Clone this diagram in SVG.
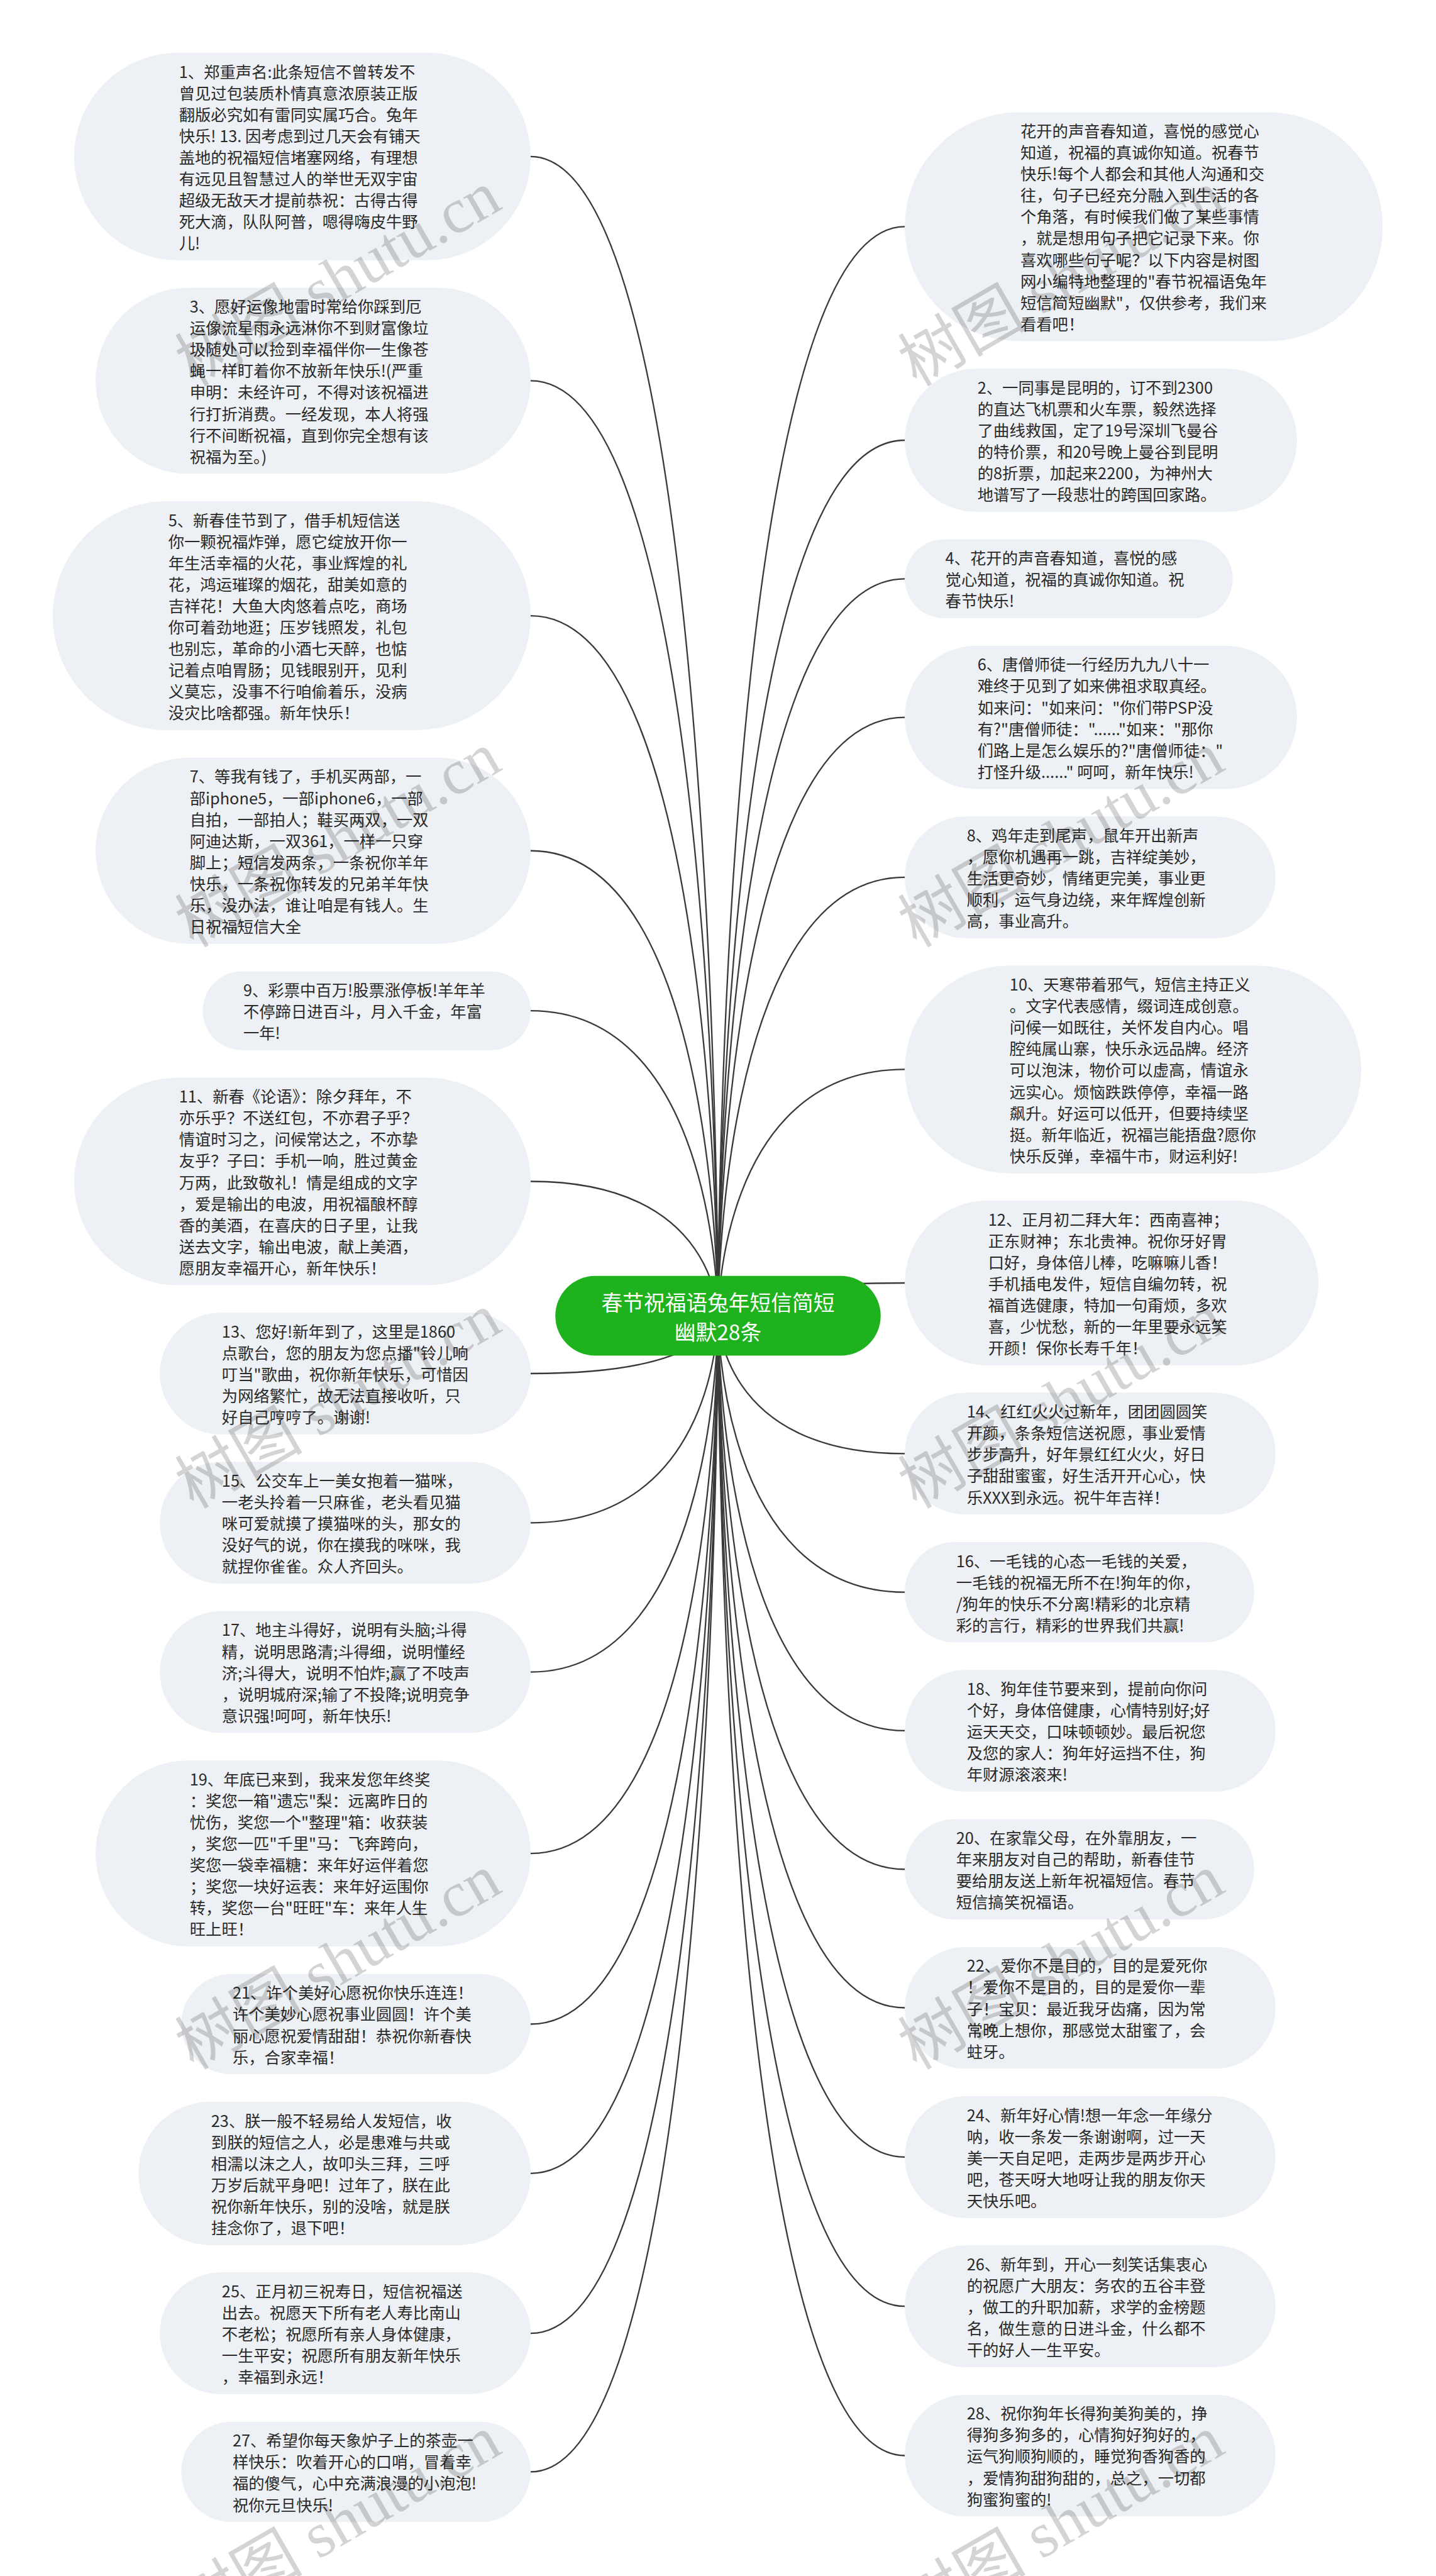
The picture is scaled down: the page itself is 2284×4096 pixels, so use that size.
<svg xmlns="http://www.w3.org/2000/svg" width="2284" height="4096" viewBox="0 0 2284 4096">
<style>
.b{fill:#edf0f4}
.t{font-family:"Noto Sans CJK SC","Liberation Sans",sans-serif;font-size:28.4px;fill:#2a2a2a;dominant-baseline:central}
.c{fill:none;stroke:#3a3a3a;stroke-width:2.6}
.g{fill:#1eb31e}
.gt{font-family:"Noto Sans CJK SC","Liberation Sans",sans-serif;font-size:37.8px;fill:#ffffff;text-anchor:middle;dominant-baseline:central}
.w{font-family:"Liberation Serif","Noto Sans CJK SC",serif;font-size:114px;fill:#000000;fill-opacity:0.17}
</style>
<rect width="2284" height="4096" fill="#ffffff"/>
<g transform="scale(0.89219)">
<g id="connectors">
<path class="c" d="M946,278.9 C1280,278.9 1280,2345 1280,2345"/>
<path class="c" d="M946,678.6 C1280,678.6 1280,2345 1280,2345"/>
<path class="c" d="M946,1097.4 C1280,1097.4 1280,2345 1280,2345"/>
<path class="c" d="M946,1516.2 C1280,1516.2 1280,2345 1280,2345"/>
<path class="c" d="M946,1801.3 C1280,1801.3 1280,2345 1280,2345"/>
<path class="c" d="M946,2105.5 C1280,2105.5 1280,2345 1280,2345"/>
<path class="c" d="M946,2447.9 C1280,2447.9 1280,2345 1280,2345"/>
<path class="c" d="M946,2713.9 C1280,2713.9 1280,2345 1280,2345"/>
<path class="c" d="M946,2979.9 C1280,2979.9 1280,2345 1280,2345"/>
<path class="c" d="M946,3303.2 C1280,3303.2 1280,2345 1280,2345"/>
<path class="c" d="M946,3607.4 C1280,3607.4 1280,2345 1280,2345"/>
<path class="c" d="M946,3873.4 C1280,3873.4 1280,2345 1280,2345"/>
<path class="c" d="M946,4158.5 C1280,4158.5 1280,2345 1280,2345"/>
<path class="c" d="M946,4405.4 C1280,4405.4 1280,2345 1280,2345"/>
<path class="c" d="M1613,404 C1280,404 1280,2345 1280,2345"/>
<path class="c" d="M1613,784.6 C1280,784.6 1280,2345 1280,2345"/>
<path class="c" d="M1613,1031.5 C1280,1031.5 1280,2345 1280,2345"/>
<path class="c" d="M1613,1278.4 C1280,1278.4 1280,2345 1280,2345"/>
<path class="c" d="M1613,1563.5 C1280,1563.5 1280,2345 1280,2345"/>
<path class="c" d="M1613,1905.9 C1280,1905.9 1280,2345 1280,2345"/>
<path class="c" d="M1613,2286.5 C1280,2286.5 1280,2345 1280,2345"/>
<path class="c" d="M1613,2590.7 C1280,2590.7 1280,2345 1280,2345"/>
<path class="c" d="M1613,2837.6 C1280,2837.6 1280,2345 1280,2345"/>
<path class="c" d="M1613,3084.5 C1280,3084.5 1280,2345 1280,2345"/>
<path class="c" d="M1613,3331.4 C1280,3331.4 1280,2345 1280,2345"/>
<path class="c" d="M1613,3578.3 C1280,3578.3 1280,2345 1280,2345"/>
<path class="c" d="M1613,3844.3 C1280,3844.3 1280,2345 1280,2345"/>
<path class="c" d="M1613,4110.3 C1280,4110.3 1280,2345 1280,2345"/>
<path class="c" d="M1613,4376.3 C1280,4376.3 1280,2345 1280,2345"/>
</g>

<g id="center">
<rect class="g" x="990" y="2274" width="580" height="142" rx="71"/>
<text class="gt"><tspan x="1280" y="2318.5">春节祝福语兔年短信简短</tspan><tspan x="1280" y="2371.5">幽默28条</tspan></text>
</g>

<g id="n1">
<rect class="b" x="132.2" y="94" width="813.8" height="369.8" rx="184.9"/>
<text class="t"><tspan x="319.1" y="126.1">1、郑重声名:此条短信不曾转发不</tspan><tspan x="319.1" y="164.3">曾见过包装质朴情真意浓原装正版</tspan><tspan x="319.1" y="202.5">翻版必究如有雷同实属巧合。兔年</tspan><tspan x="319.1" y="240.7">快乐! 13. 因考虑到过几天会有铺天</tspan><tspan x="319.1" y="278.9">盖地的祝福短信堵塞网络，有理想</tspan><tspan x="319.1" y="317.1">有远见且智慧过人的举世无双宇宙</tspan><tspan x="319.1" y="355.3">超级无敌天才提前恭祝：古得古得</tspan><tspan x="319.1" y="393.5">死大滴，队队阿普，嗯得嗨皮牛野</tspan><tspan x="319.1" y="431.7">儿!</tspan></text>
</g>
<g id="n3">
<rect class="b" x="170.4" y="512.8" width="775.6" height="331.6" rx="165.8"/>
<text class="t"><tspan x="338.2" y="544.9">3、愿好运像地雷时常给你踩到厄</tspan><tspan x="338.2" y="583.1">运像流星雨永远淋你不到财富像垃</tspan><tspan x="338.2" y="621.3">圾随处可以捡到幸福伴你一生像苍</tspan><tspan x="338.2" y="659.5">蝇一样盯着你不放新年快乐!(严重</tspan><tspan x="338.2" y="697.7">申明：未经许可，不得对该祝福进</tspan><tspan x="338.2" y="735.9">行打折消费。一经发现，本人将强</tspan><tspan x="338.2" y="774.1">行不间断祝福，直到你完全想有该</tspan><tspan x="338.2" y="812.3">祝福为至。)</tspan></text>
</g>
<g id="n5">
<rect class="b" x="94" y="893.4" width="852" height="408" rx="204"/>
<text class="t"><tspan x="300" y="925.5">5、新春佳节到了，借手机短信送</tspan><tspan x="300" y="963.7">你一颗祝福炸弹，愿它绽放开你一</tspan><tspan x="300" y="1001.9">年生活幸福的火花，事业辉煌的礼</tspan><tspan x="300" y="1040.1">花，鸿运璀璨的烟花，甜美如意的</tspan><tspan x="300" y="1078.3">吉祥花！大鱼大肉悠着点吃，商场</tspan><tspan x="300" y="1116.5">你可着劲地逛；压岁钱照发，礼包</tspan><tspan x="300" y="1154.7">也别忘，革命的小酒七天醉，也惦</tspan><tspan x="300" y="1192.9">记着点咱胃肠；见钱眼别开，见利</tspan><tspan x="300" y="1231.1">义莫忘，没事不行咱偷着乐，没病</tspan><tspan x="300" y="1269.3">没灾比啥都强。新年快乐！</tspan></text>
</g>
<g id="n7">
<rect class="b" x="170.4" y="1350.4" width="775.6" height="331.6" rx="165.8"/>
<text class="t"><tspan x="338.2" y="1382.5">7、等我有钱了，手机买两部，一</tspan><tspan x="338.2" y="1420.7">部iphone5，一部iphone6，一部</tspan><tspan x="338.2" y="1458.9">自拍，一部拍人；鞋买两双，一双</tspan><tspan x="338.2" y="1497.1">阿迪达斯，一双361，一样一只穿</tspan><tspan x="338.2" y="1535.3">脚上；短信发两条，一条祝你羊年</tspan><tspan x="338.2" y="1573.5">快乐，一条祝你转发的兄弟羊年快</tspan><tspan x="338.2" y="1611.7">乐，没办法，谁让咱是有钱人。生</tspan><tspan x="338.2" y="1649.9">日祝福短信大全</tspan></text>
</g>
<g id="n9">
<rect class="b" x="361.4" y="1731" width="584.6" height="140.6" rx="70.3"/>
<text class="t"><tspan x="433.7" y="1763.1">9、彩票中百万!股票涨停板!羊年羊</tspan><tspan x="433.7" y="1801.3">不停蹄日进百斗，月入千金，年富</tspan><tspan x="433.7" y="1839.5">一年!</tspan></text>
</g>
<g id="n11">
<rect class="b" x="132.2" y="1920.6" width="813.8" height="369.8" rx="184.9"/>
<text class="t"><tspan x="319.1" y="1952.7">11、新春《论语》：除夕拜年，不</tspan><tspan x="319.1" y="1990.9">亦乐乎？不送红包，不亦君子乎？</tspan><tspan x="319.1" y="2029.1">情谊时习之，问候常达之，不亦挚</tspan><tspan x="319.1" y="2067.3">友乎？子曰：手机一响，胜过黄金</tspan><tspan x="319.1" y="2105.5">万两，此致敬礼！情是组成的文字</tspan><tspan x="319.1" y="2143.7">，爱是输出的电波，用祝福酿杯醇</tspan><tspan x="319.1" y="2181.9">香的美酒，在喜庆的日子里，让我</tspan><tspan x="319.1" y="2220.1">送去文字，输出电波，献上美酒，</tspan><tspan x="319.1" y="2258.3">愿朋友幸福开心，新年快乐！</tspan></text>
</g>
<g id="n13">
<rect class="b" x="285" y="2339.4" width="661" height="217" rx="108.5"/>
<text class="t"><tspan x="395.5" y="2371.5">13、您好!新年到了，这里是1860</tspan><tspan x="395.5" y="2409.7">点歌台，您的朋友为您点播"铃儿响</tspan><tspan x="395.5" y="2447.9">叮当"歌曲，祝你新年快乐，可惜因</tspan><tspan x="395.5" y="2486.1">为网络繁忙，故无法直接收听，只</tspan><tspan x="395.5" y="2524.3">好自己哼哼了。谢谢!</tspan></text>
</g>
<g id="n15">
<rect class="b" x="285" y="2605.4" width="661" height="217" rx="108.5"/>
<text class="t"><tspan x="395.5" y="2637.5">15、公交车上一美女抱着一猫咪，</tspan><tspan x="395.5" y="2675.7">一老头拎着一只麻雀，老头看见猫</tspan><tspan x="395.5" y="2713.9">咪可爱就摸了摸猫咪的头，那女的</tspan><tspan x="395.5" y="2752.1">没好气的说，你在摸我的咪咪，我</tspan><tspan x="395.5" y="2790.3">就捏你雀雀。众人齐回头。</tspan></text>
</g>
<g id="n17">
<rect class="b" x="285" y="2871.4" width="661" height="217" rx="108.5"/>
<text class="t"><tspan x="395.5" y="2903.5">17、地主斗得好，说明有头脑;斗得</tspan><tspan x="395.5" y="2941.7">精，说明思路清;斗得细，说明懂经</tspan><tspan x="395.5" y="2979.9">济;斗得大，说明不怕炸;赢了不吱声</tspan><tspan x="395.5" y="3018.1">，说明城府深;输了不投降;说明竞争</tspan><tspan x="395.5" y="3056.3">意识强!呵呵，新年快乐!</tspan></text>
</g>
<g id="n19">
<rect class="b" x="170.4" y="3137.4" width="775.6" height="331.6" rx="165.8"/>
<text class="t"><tspan x="338.2" y="3169.5">19、年底已来到，我来发您年终奖</tspan><tspan x="338.2" y="3207.7">：奖您一箱"遗忘"梨：远离昨日的</tspan><tspan x="338.2" y="3245.9">忧伤，奖您一个"整理"箱：收获装</tspan><tspan x="338.2" y="3284.1">，奖您一匹"千里"马：飞奔跨向，</tspan><tspan x="338.2" y="3322.3">奖您一袋幸福糖：来年好运伴着您</tspan><tspan x="338.2" y="3360.5">；奖您一块好运表：来年好运围你</tspan><tspan x="338.2" y="3398.7">转，奖您一台"旺旺"车：来年人生</tspan><tspan x="338.2" y="3436.9">旺上旺！</tspan></text>
</g>
<g id="n21">
<rect class="b" x="323.2" y="3518" width="622.8" height="178.8" rx="89.4"/>
<text class="t"><tspan x="414.6" y="3550.1">21、许个美好心愿祝你快乐连连！</tspan><tspan x="414.6" y="3588.3">许个美妙心愿祝事业圆圆！许个美</tspan><tspan x="414.6" y="3626.5">丽心愿祝爱情甜甜！恭祝你新春快</tspan><tspan x="414.6" y="3664.7">乐，合家幸福！</tspan></text>
</g>
<g id="n23">
<rect class="b" x="246.8" y="3745.8" width="699.2" height="255.2" rx="127.6"/>
<text class="t"><tspan x="376.4" y="3777.9">23、朕一般不轻易给人发短信，收</tspan><tspan x="376.4" y="3816.1">到朕的短信之人，必是患难与共或</tspan><tspan x="376.4" y="3854.3">相濡以沫之人，故叩头三拜，三呼</tspan><tspan x="376.4" y="3892.5">万岁后就平身吧！过年了，朕在此</tspan><tspan x="376.4" y="3930.7">祝你新年快乐，别的没啥，就是朕</tspan><tspan x="376.4" y="3968.9">挂念你了，退下吧！</tspan></text>
</g>
<g id="n25">
<rect class="b" x="285" y="4050" width="661" height="217" rx="108.5"/>
<text class="t"><tspan x="395.5" y="4082.1">25、正月初三祝寿日，短信祝福送</tspan><tspan x="395.5" y="4120.3">出去。祝愿天下所有老人寿比南山</tspan><tspan x="395.5" y="4158.5">不老松；祝愿所有亲人身体健康，</tspan><tspan x="395.5" y="4196.7">一生平安；祝愿所有朋友新年快乐</tspan><tspan x="395.5" y="4234.9">，幸福到永远！</tspan></text>
</g>
<g id="n27">
<rect class="b" x="323.2" y="4316" width="622.8" height="178.8" rx="89.4"/>
<text class="t"><tspan x="414.6" y="4348.1">27、希望你每天象炉子上的茶壶一</tspan><tspan x="414.6" y="4386.3">样快乐：吹着开心的口哨，冒着幸</tspan><tspan x="414.6" y="4424.5">福的傻气，心中充满浪漫的小泡泡!</tspan><tspan x="414.6" y="4462.7">祝你元旦快乐!</tspan></text>
</g>

<g id="intro">
<rect class="b" x="1613" y="200" width="852" height="408" rx="204"/>
<text class="t"><tspan x="1819" y="232.1">花开的声音春知道，喜悦的感觉心</tspan><tspan x="1819" y="270.3">知道，祝福的真诚你知道。祝春节</tspan><tspan x="1819" y="308.5">快乐!每个人都会和其他人沟通和交</tspan><tspan x="1819" y="346.7">往，句子已经充分融入到生活的各</tspan><tspan x="1819" y="384.9">个角落，有时候我们做了某些事情</tspan><tspan x="1819" y="423.1">，就是想用句子把它记录下来。你</tspan><tspan x="1819" y="461.3">喜欢哪些句子呢？以下内容是树图</tspan><tspan x="1819" y="499.5">网小编特地整理的"春节祝福语兔年</tspan><tspan x="1819" y="537.7">短信简短幽默"，仅供参考，我们来</tspan><tspan x="1819" y="575.9">看看吧！</tspan></text>
</g>
<g id="n2">
<rect class="b" x="1613" y="657" width="699.2" height="255.2" rx="127.6"/>
<text class="t"><tspan x="1742.6" y="689.1">2、一同事是昆明的，订不到2300</tspan><tspan x="1742.6" y="727.3">的直达飞机票和火车票，毅然选择</tspan><tspan x="1742.6" y="765.5">了曲线救国，定了19号深圳飞曼谷</tspan><tspan x="1742.6" y="803.7">的特价票，和20号晚上曼谷到昆明</tspan><tspan x="1742.6" y="841.9">的8折票，加起来2200，为神州大</tspan><tspan x="1742.6" y="880.1">地谱写了一段悲壮的跨国回家路。</tspan></text>
</g>
<g id="n4">
<rect class="b" x="1613" y="961.2" width="584.6" height="140.6" rx="70.3"/>
<text class="t"><tspan x="1685.3" y="993.3">4、花开的声音春知道，喜悦的感</tspan><tspan x="1685.3" y="1031.5">觉心知道，祝福的真诚你知道。祝</tspan><tspan x="1685.3" y="1069.7">春节快乐!</tspan></text>
</g>
<g id="n6">
<rect class="b" x="1613" y="1150.8" width="699.2" height="255.2" rx="127.6"/>
<text class="t"><tspan x="1742.6" y="1182.9">6、唐僧师徒一行经历九九八十一</tspan><tspan x="1742.6" y="1221.1">难终于见到了如来佛祖求取真经。</tspan><tspan x="1742.6" y="1259.3">如来问："如来问："你们带PSP没</tspan><tspan x="1742.6" y="1297.5">有?"唐僧师徒："......"如来："那你</tspan><tspan x="1742.6" y="1335.7">们路上是怎么娱乐的?"唐僧师徒："</tspan><tspan x="1742.6" y="1373.9">打怪升级......" 呵呵，新年快乐!</tspan></text>
</g>
<g id="n8">
<rect class="b" x="1613" y="1455" width="661" height="217" rx="108.5"/>
<text class="t"><tspan x="1723.5" y="1487.1">8、鸡年走到尾声，鼠年开出新声</tspan><tspan x="1723.5" y="1525.3">，愿你机遇再一跳，吉祥绽美妙，</tspan><tspan x="1723.5" y="1563.5">生活更奇妙，情绪更完美，事业更</tspan><tspan x="1723.5" y="1601.7">顺利，运气身边绕，来年辉煌创新</tspan><tspan x="1723.5" y="1639.9">高，事业高升。</tspan></text>
</g>
<g id="n10">
<rect class="b" x="1613" y="1721" width="813.8" height="369.8" rx="184.9"/>
<text class="t"><tspan x="1799.9" y="1753.1">10、天寒带着邪气，短信主持正义</tspan><tspan x="1799.9" y="1791.3">。文字代表感情，缀词连成创意。</tspan><tspan x="1799.9" y="1829.5">问候一如既往，关怀发自内心。唱</tspan><tspan x="1799.9" y="1867.7">腔纯属山寨，快乐永远品牌。经济</tspan><tspan x="1799.9" y="1905.9">可以泡沫，物价可以虚高，情谊永</tspan><tspan x="1799.9" y="1944.1">远实心。烦恼跌跌停停，幸福一路</tspan><tspan x="1799.9" y="1982.3">飙升。好运可以低开，但要持续坚</tspan><tspan x="1799.9" y="2020.5">挺。新年临近，祝福岂能捂盘?愿你</tspan><tspan x="1799.9" y="2058.7">快乐反弹，幸福牛市，财运利好!</tspan></text>
</g>
<g id="n12">
<rect class="b" x="1613" y="2139.8" width="737.4" height="293.4" rx="146.7"/>
<text class="t"><tspan x="1761.7" y="2171.9">12、正月初二拜大年：西南喜神；</tspan><tspan x="1761.7" y="2210.1">正东财神；东北贵神。祝你牙好胃</tspan><tspan x="1761.7" y="2248.3">口好，身体倍儿棒，吃嘛嘛儿香！</tspan><tspan x="1761.7" y="2286.5">手机插电发件，短信自编勿转，祝</tspan><tspan x="1761.7" y="2324.7">福首选健康，特加一句甭烦，多欢</tspan><tspan x="1761.7" y="2362.9">喜，少忧愁，新的一年里要永远笑</tspan><tspan x="1761.7" y="2401.1">开颜！保你长寿千年！</tspan></text>
</g>
<g id="n14">
<rect class="b" x="1613" y="2482.2" width="661" height="217" rx="108.5"/>
<text class="t"><tspan x="1723.5" y="2514.3">14、红红火火过新年，团团圆圆笑</tspan><tspan x="1723.5" y="2552.5">开颜，条条短信送祝愿，事业爱情</tspan><tspan x="1723.5" y="2590.7">步步高升，好年景红红火火，好日</tspan><tspan x="1723.5" y="2628.9">子甜甜蜜蜜，好生活开开心心，快</tspan><tspan x="1723.5" y="2667.1">乐XXX到永远。祝牛年吉祥！</tspan></text>
</g>
<g id="n16">
<rect class="b" x="1613" y="2748.2" width="622.8" height="178.8" rx="89.4"/>
<text class="t"><tspan x="1704.4" y="2780.3">16、一毛钱的心态一毛钱的关爱，</tspan><tspan x="1704.4" y="2818.5">一毛钱的祝福无所不在!狗年的你，</tspan><tspan x="1704.4" y="2856.7">/狗年的快乐不分离!精彩的北京精</tspan><tspan x="1704.4" y="2894.9">彩的言行，精彩的世界我们共赢!</tspan></text>
</g>
<g id="n18">
<rect class="b" x="1613" y="2976" width="661" height="217" rx="108.5"/>
<text class="t"><tspan x="1723.5" y="3008.1">18、狗年佳节要来到，提前向你问</tspan><tspan x="1723.5" y="3046.3">个好，身体倍健康，心情特别好;好</tspan><tspan x="1723.5" y="3084.5">运天天交，口味顿顿妙。最后祝您</tspan><tspan x="1723.5" y="3122.7">及您的家人：狗年好运挡不住，狗</tspan><tspan x="1723.5" y="3160.9">年财源滚滚来!</tspan></text>
</g>
<g id="n20">
<rect class="b" x="1613" y="3242" width="622.8" height="178.8" rx="89.4"/>
<text class="t"><tspan x="1704.4" y="3274.1">20、在家靠父母，在外靠朋友，一</tspan><tspan x="1704.4" y="3312.3">年来朋友对自己的帮助，新春佳节</tspan><tspan x="1704.4" y="3350.5">要给朋友送上新年祝福短信。春节</tspan><tspan x="1704.4" y="3388.7">短信搞笑祝福语。</tspan></text>
</g>
<g id="n22">
<rect class="b" x="1613" y="3469.8" width="661" height="217" rx="108.5"/>
<text class="t"><tspan x="1723.5" y="3501.9">22、爱你不是目的，目的是爱死你</tspan><tspan x="1723.5" y="3540.1">！爱你不是目的，目的是爱你一辈</tspan><tspan x="1723.5" y="3578.3">子！宝贝：最近我牙齿痛，因为常</tspan><tspan x="1723.5" y="3616.5">常晚上想你，那感觉太甜蜜了，会</tspan><tspan x="1723.5" y="3654.7">蛀牙。</tspan></text>
</g>
<g id="n24">
<rect class="b" x="1613" y="3735.8" width="661" height="217" rx="108.5"/>
<text class="t"><tspan x="1723.5" y="3767.9">24、新年好心情!想一年念一年缘分</tspan><tspan x="1723.5" y="3806.1">呐，收一条发一条谢谢啊，过一天</tspan><tspan x="1723.5" y="3844.3">美一天自足吧，走两步是两步开心</tspan><tspan x="1723.5" y="3882.5">吧，苍天呀大地呀让我的朋友你天</tspan><tspan x="1723.5" y="3920.7">天快乐吧。</tspan></text>
</g>
<g id="n26">
<rect class="b" x="1613" y="4001.8" width="661" height="217" rx="108.5"/>
<text class="t"><tspan x="1723.5" y="4033.9">26、新年到，开心一刻笑话集衷心</tspan><tspan x="1723.5" y="4072.1">的祝愿广大朋友：务农的五谷丰登</tspan><tspan x="1723.5" y="4110.3">，做工的升职加薪，求学的金榜题</tspan><tspan x="1723.5" y="4148.5">名，做生意的日进斗金，什么都不</tspan><tspan x="1723.5" y="4186.7">干的好人一生平安。</tspan></text>
</g>
<g id="n28">
<rect class="b" x="1613" y="4267.8" width="661" height="217" rx="108.5"/>
<text class="t"><tspan x="1723.5" y="4299.9">28、祝你狗年长得狗美狗美的，挣</tspan><tspan x="1723.5" y="4338.1">得狗多狗多的，心情狗好狗好的，</tspan><tspan x="1723.5" y="4376.3">运气狗顺狗顺的，睡觉狗香狗香的</tspan><tspan x="1723.5" y="4414.5">，爱情狗甜狗甜的，总之，一切都</tspan><tspan x="1723.5" y="4452.7">狗蜜狗蜜的!</tspan></text>
</g>

<g id="watermark">
<text class="w" transform="translate(345,690) rotate(-30)">树图 shutu.cn</text>
<text class="w" transform="translate(345,1690) rotate(-30)">树图 shutu.cn</text>
<text class="w" transform="translate(345,2690) rotate(-30)">树图 shutu.cn</text>
<text class="w" transform="translate(345,3690) rotate(-30)">树图 shutu.cn</text>
<text class="w" transform="translate(345,4690) rotate(-30)">树图 shutu.cn</text>
<text class="w" transform="translate(1634,690) rotate(-30)">树图 shutu.cn</text>
<text class="w" transform="translate(1634,1690) rotate(-30)">树图 shutu.cn</text>
<text class="w" transform="translate(1634,2690) rotate(-30)">树图 shutu.cn</text>
<text class="w" transform="translate(1634,3690) rotate(-30)">树图 shutu.cn</text>
<text class="w" transform="translate(1634,4690) rotate(-30)">树图 shutu.cn</text>
</g>
</g>
</svg>
